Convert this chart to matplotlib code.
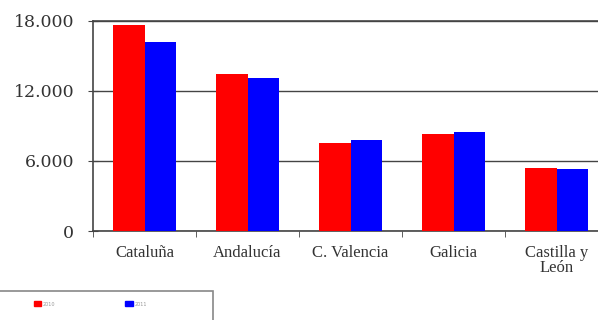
import matplotlib
matplotlib.use("Agg")
import matplotlib.pyplot as plt
import numpy as np
from matplotlib.patches import Patch, Rectangle

regions = ['Cataluña', 'Andalucía', 'C. Valencia', 'Galicia', 'Castilla y\nLeón']
serie_a = [17600, 13420, 7550, 8290, 5410]
serie_b = [16150, 13080, 7780, 8440, 5300]
series_labels = ['2010', '2011']
yticks = [0, 6000, 12000, 18000]
ytick_labels = ['0', '6.000', '12.000', '18.000']

fig = plt.figure(figsize=(5.98, 3.20), dpi=100)
ax = fig.add_axes([93 / 598, 1 - 231 / 320, 515 / 598, 210.5 / 320])

x = np.arange(len(regions))
w = 0.31
ax.bar(x - w / 2, serie_a, w, color='#ff0000', zorder=3)
ax.bar(x + w / 2, serie_b, w, color='#0000ff', zorder=3)

ax.set_xlim(-0.5, len(regions) - 0.5)
ax.set_ylim(0, 18000)
ax.set_yticks(yticks)
ax.set_yticklabels(ytick_labels, fontfamily='DejaVu Serif', fontsize=12.5, color='#333333')
ax.yaxis.grid(True, color='#444444', linewidth=1, zorder=0)
ax.set_xticks(x)
ax.set_xticklabels(regions, fontfamily='Liberation Serif', fontsize=12,
                   color='#333333', linespacing=0.95)
ax.tick_params(axis='x', length=0, pad=10)
ax.set_xticks(np.arange(len(regions) + 1) - 0.5, minor=True)
ax.tick_params(axis='x', which='minor', length=4, direction='out', color='#444444')
ax.tick_params(axis='y', length=7, direction='inout', color='#444444', pad=10)
for s in ['left', 'top', 'bottom', 'right']:
    ax.spines[s].set_color('#444444')
    ax.spines[s].set_linewidth(1.2)

# legend box, cut off by the bottom edge like in the original
fig.patches.append(Rectangle((-0.01, -0.1), 0.367, 0.191, transform=fig.transFigure,
                             fill=False, edgecolor='#888888', linewidth=1.2))
handles = [Patch(color='#ff0000'), Patch(color='#0000ff')]
leg = fig.legend(handles, series_labels, loc='center left', ncol=2,
                 bbox_to_anchor=(0.052, 1 - 304 / 320), fontsize=3.5,
                 handlelength=1.6, handleheight=1.2, handletextpad=0.3,
                 columnspacing=14.4, borderpad=0, frameon=False, labelcolor='#999999')

fig.savefig('out.png', dpi=100)
